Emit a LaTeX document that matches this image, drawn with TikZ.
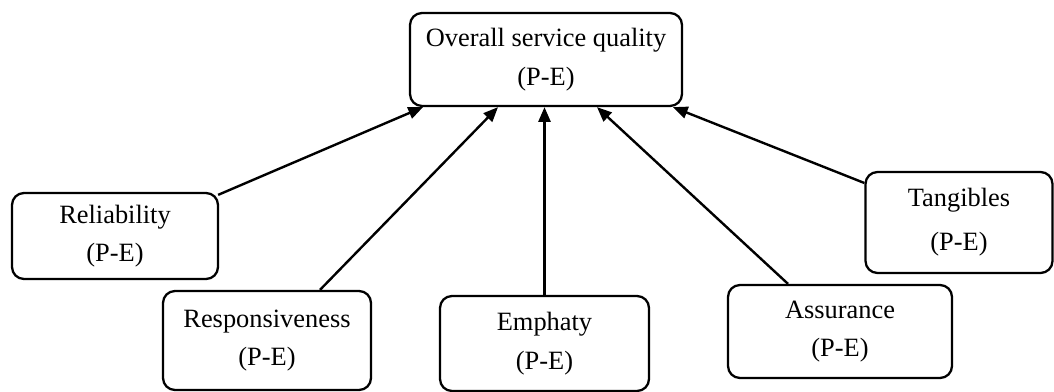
\documentclass[tikz,border=0pt]{standalone}
\usepackage{fontspec}
\setmainfont{Liberation Serif}
\usetikzlibrary{arrows.meta}
\usetikzlibrary{calc}

\begin{document}
\begin{tikzpicture}[x=0.75pt,y=-0.75pt]
    \tikzset{
      >={Triangle[length=11pt,width=9pt]},
      every node/.style={draw, line width=1.7pt, rounded corners=9pt, align=center,
        inner sep=0pt, font=\fontsize{19.8}{29}\selectfont},
      link/.style={->, line width=1.8pt},
    }
    \useasboundingbox (0,0) rectangle (1054,392);

    \node[minimum width=204pt, minimum height=69.75pt] (overall) at (546,59.5) {Overall service quality\\(P-E)};
    \node[minimum width=154.5pt, minimum height=64.5pt] (reliab) at (115,236) {Reliability\\(P-E)};
    \node[minimum width=156pt, minimum height=74.25pt] (respons) at (267,340.5) {Responsiveness\\(P-E)};
    \node[minimum width=156.75pt, minimum height=71.25pt] (emphaty) at (544.5,343.5) {Emphaty\\(P-E)};
    \node[minimum width=168pt, minimum height=69.75pt] (assur) at (840,331.5) {Assurance\\(P-E)};
    \node[minimum width=140.25pt, minimum height=75.75pt] (tang) at (959,222.5) {Tangibles\\[4pt](P-E)};

    \draw[link] ($(reliab.north east)+(-1,3)$) -- ($(overall.south)+(-123,0)$);
    \draw[link] ($(respons.north)+(53,0)$) -- ($(overall.south)+(-48,0)$);
    \draw[link] (emphaty.north) -- (emphaty.north |- overall.south);
    \draw[link] ($(assur.north)+(-52,0)$) -- ($(overall.south)+(51,0)$);
    \draw[link] ($(tang.west)+(0,-39.5)$) -- ($(overall.south)+(127,0)$);
\end{tikzpicture}
\end{document}
